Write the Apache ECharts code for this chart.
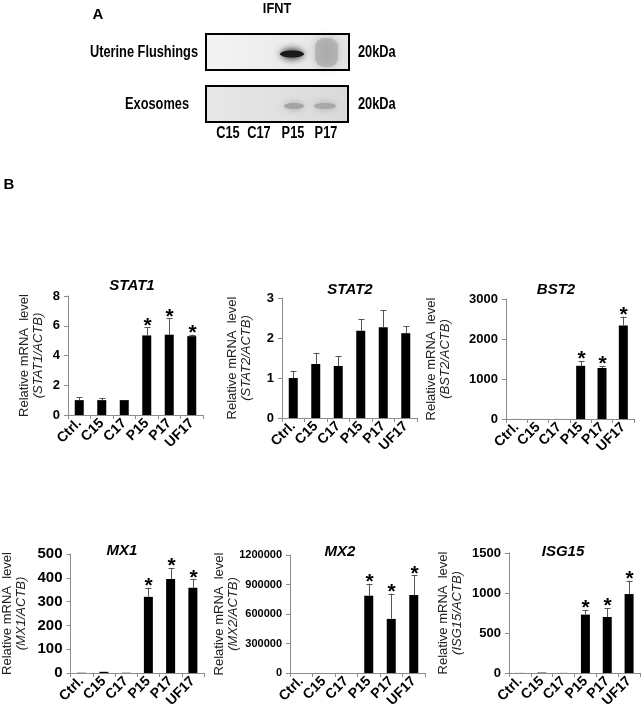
<!DOCTYPE html>
<html>
<head>
<meta charset="utf-8">
<script src="https://cdn.jsdelivr.net/npm/echarts@6/dist/echarts.min.js"></script>
<style>
html,body{margin:0;padding:0;background:#fff;}
#c{width:644px;height:713px;}
</style>
</head>
<body>
<div id="c"></div>
<script>
// ---------- DATA ----------
const categories = ['Ctrl.', 'C15', 'C17', 'P15', 'P17', 'UF17'];
const geneNames = ['STAT1', 'STAT2', 'BST2', 'MX1', 'MX2', 'ISG15'];

const stat1Mean = [1.0, 1.0, 1.0, 5.35, 5.4, 5.3];
const stat1Err  = [0.21, 0.15, 0.02, 0.55, 1.1, 0.1];
const stat1Sig  = [0, 0, 0, 1, 1, 1];

const stat2Mean = [1.0, 1.35, 1.3, 2.18, 2.27, 2.12];
const stat2Err  = [0.18, 0.28, 0.25, 0.29, 0.42, 0.18];
const stat2Sig  = [0, 0, 0, 0, 0, 0];

const bst2Mean = [1, 1, 1, 1330, 1275, 2340];
const bst2Err  = [0, 0, 0, 120, 50, 220];
const bst2Sig  = [0, 0, 0, 1, 1, 1];

const mx1Mean = [1, 5, 1, 320, 395, 358];
const mx1Err  = [0, 1, 0, 38, 46, 35];
const mx1Sig  = [0, 0, 0, 1, 1, 1];

const mx2Mean = [1, 1, 1, 786000, 550000, 793000];
const mx2Err  = [0, 0, 0, 122000, 257000, 200000];
const mx2Sig  = [0, 0, 0, 1, 1, 1];

const isg15Mean = [1, 5, 1, 730, 700, 987];
const isg15Err  = [0, 0, 0, 60, 112, 167];
const isg15Sig  = [0, 0, 0, 1, 1, 1];

const yMax      = [8, 3, 3000, 500, 1200000, 1500];
const yInterval = [2, 1, 1000, 100, 300000, 500];

const blotRows  = ['Uterine Flushings', 'Exosomes'];
const blotLanes = ['C15', 'C17', 'P15', 'P17'];
const blotSize  = '20kDa';

// ---------- LAYOUT ----------
const means = [stat1Mean, stat2Mean, bst2Mean, mx1Mean, mx2Mean, isg15Mean];
const errs  = [stat1Err, stat2Err, bst2Err, mx1Err, mx2Err, isg15Err];
const sigs  = [stat1Sig, stat2Sig, bst2Sig, mx1Sig, mx2Sig, isg15Sig];

const grids = [
  {left: 68,  top: 296, width: 135, height: 119},
  {left: 282, top: 298, width: 135, height: 120},
  {left: 506, top: 299, width: 128, height: 120},
  {left: 70,  top: 554, width: 134, height: 119},
  {left: 290, top: 555, width: 135, height: 118},
  {left: 509, top: 553, width: 131, height: 120}
];
const nameGaps = [23, 29, 54, 42, 50, 45];
const yLabelSize = [13, 13, 13, 15, 11, 13];
const titlePos = [[132, 278], [350, 282], [556, 282], [122, 543], [340, 544], [563, 544]];

const FONT = '"Liberation Sans", Arial, sans-serif';

function errRender(params, api) {
  const idx = api.value(0), v = api.value(1), e = api.value(2), s = api.value(3);
  const base = api.coord([idx, v]);
  const top = api.coord([idx, v + e]);
  const x = Math.round(base[0]) + 0.5;
  const children = [];
  if (e > 0 && base[1] - top[1] >= 0.5) {
    children.push({type: 'line', shape: {x1: x, y1: base[1], x2: x, y2: top[1]}, style: {stroke: '#555', lineWidth: 1}});
    children.push({type: 'line', shape: {x1: x - 3, y1: Math.round(top[1]) + 0.5, x2: x + 3, y2: Math.round(top[1]) + 0.5}, style: {stroke: '#555', lineWidth: 1}});
  }
  if (s) {
    children.push({type: 'text', style: {text: '*', x: x, y: top[1] + 9, align: 'center', verticalAlign: 'bottom', font: 'bold 21px ' + FONT, fill: '#000'}});
  }
  return {type: 'group', children: children};
}

function blotText(txt, x, y, align) {
  return {type: 'text', x: x, y: y, scaleX: 0.8,
    style: {text: txt, x: 0, y: 0, align: align, verticalAlign: 'middle', font: 'bold 16px ' + FONT, fill: '#000'}};
}

const option = {
  backgroundColor: '#fff',
  animation: false,
  title: geneNames.map((g, i) => ({
    text: g, left: titlePos[i][0], top: titlePos[i][1], textAlign: 'center',
    textStyle: {fontSize: 15, fontWeight: 'bold', fontStyle: 'italic', color: '#000', fontFamily: FONT},
    padding: 0
  })),
  grid: grids.map(g => Object.assign({containLabel: false}, g)),
  xAxis: grids.map((g, i) => ({
    type: 'category', gridIndex: i, data: categories,
    axisLine: {lineStyle: {color: '#8c8c8c', width: 1}},
    axisTick: {show: true, length: 4, lineStyle: {color: '#8c8c8c'}},
    axisLabel: {rotate: 45, interval: 0, margin: 6, fontSize: 14, fontWeight: 'bold', color: '#000', fontFamily: FONT},
    splitLine: {show: false}
  })),
  yAxis: grids.map((g, i) => ({
    type: 'value', gridIndex: i, min: 0, max: yMax[i], interval: yInterval[i],
    axisLine: {show: true, lineStyle: {color: '#8c8c8c', width: 1}},
    axisTick: {show: true, length: 4, lineStyle: {color: '#8c8c8c'}},
    axisLabel: {margin: 8, fontSize: yLabelSize[i], fontWeight: 'bold', color: '#000', fontFamily: FONT,
      formatter: v => String(v)},
    splitLine: {show: false},
    name: '{a|Relative mRNA  level}\n{b|(' + geneNames[i] + '/ACTB)}',
    nameLocation: 'middle', nameRotate: 90, nameGap: nameGaps[i], nameMoveOverlap: false,
    nameTextStyle: {
      color: '#222', fontFamily: FONT,
      rich: {
        a: {fontSize: 13, lineHeight: 14, color: '#222', fontFamily: FONT},
        b: {fontSize: 13, lineHeight: 14, color: '#222', fontStyle: 'italic', fontFamily: FONT}
      }
    }
  })),
  series: [].concat(
    means.map((m, i) => ({
      type: 'bar', xAxisIndex: i, yAxisIndex: i, data: m, barWidth: 9,
      itemStyle: {color: '#000'}, silent: true
    })),
    means.map((m, i) => ({
      type: 'custom', xAxisIndex: i, yAxisIndex: i, renderItem: errRender, z: 5,
      encode: {x: 0, y: 1},
      data: m.map((v, k) => [k, v, errs[i][k], sigs[i][k]])
    }))
  ),
  graphic: {
    elements: [
      {type: 'text', x: 98, y: 15, style: {text: 'A', align: 'center', verticalAlign: 'middle', font: 'bold 15px ' + FONT, fill: '#000'}},
      {type: 'text', x: 277, y: 9, scaleX: 0.85, style: {text: 'IFNT', x: 0, y: 0, align: 'center', verticalAlign: 'middle', font: 'bold 15px ' + FONT, fill: '#000'}},
      {type: 'text', x: 9, y: 185, style: {text: 'B', align: 'center', verticalAlign: 'middle', font: 'bold 15px ' + FONT, fill: '#000'}},
      // box 1
      {type: 'rect', shape: {x: 206, y: 34, width: 143, height: 36},
        style: {fill: {type: 'linear', x: 0, y: 0, x2: 1, y2: 0, colorStops: [{offset: 0, color: '#f4f4f4'}, {offset: 1, color: '#e4e4e4'}]}, stroke: 'none'}},
      {type: 'ellipse', shape: {cx: 292, cy: 54, rx: 18, ry: 14}, style: {fill: {type: 'radial', x: 0.5, y: 0.5, r: 0.5, colorStops: [{offset: 0, color: 'rgba(110,110,110,0.55)'}, {offset: 1, color: 'rgba(200,200,200,0)'}]}}},
      {type: 'ellipse', shape: {cx: 292, cy: 54, rx: 12, ry: 3.5}, style: {fill: '#1a1a1a', shadowBlur: 7, shadowColor: '#1a1a1a'}},
      {type: 'rect', shape: {x: 315, y: 38, width: 23, height: 29, r: 9}, style: {fill: 'rgba(160,160,160,0.55)', shadowBlur: 9, shadowColor: 'rgba(130,130,130,0.8)'}},
      {type: 'rect', shape: {x: 206, y: 34, width: 143, height: 36}, style: {fill: 'none', stroke: '#000', lineWidth: 2}},
      // box 2
      {type: 'rect', shape: {x: 206, y: 86, width: 142, height: 36},
        style: {fill: {type: 'linear', x: 0, y: 0, x2: 1, y2: 0, colorStops: [{offset: 0, color: '#e8e8e8'}, {offset: 1, color: '#dadada'}]}, stroke: 'none'}},
      {type: 'ellipse', shape: {cx: 294, cy: 106, rx: 10, ry: 3}, style: {fill: '#a4a4a4', shadowBlur: 7, shadowColor: '#a4a4a4'}},
      {type: 'ellipse', shape: {cx: 325, cy: 106, rx: 11, ry: 3}, style: {fill: '#a8a8a8', shadowBlur: 7, shadowColor: '#a8a8a8'}},
      {type: 'rect', shape: {x: 206, y: 86, width: 142, height: 36}, style: {fill: 'none', stroke: '#000', lineWidth: 2}},
      // labels
      blotText(blotRows[0], 198, 53, 'right'),
      blotText(blotRows[1], 157, 105, 'center'),
      blotText(blotSize, 358, 53, 'left'),
      blotText(blotSize, 358, 105, 'left'),
      blotText(blotLanes[0], 228, 134, 'center'),
      blotText(blotLanes[1], 259, 134, 'center'),
      blotText(blotLanes[2], 293, 134, 'center'),
      blotText(blotLanes[3], 326, 134, 'center')
    ]
  }
};

const chart = echarts.init(document.getElementById('c'), null, {renderer: 'canvas', width: 644, height: 713});
chart.setOption(option);
</script>
</body>
</html>
